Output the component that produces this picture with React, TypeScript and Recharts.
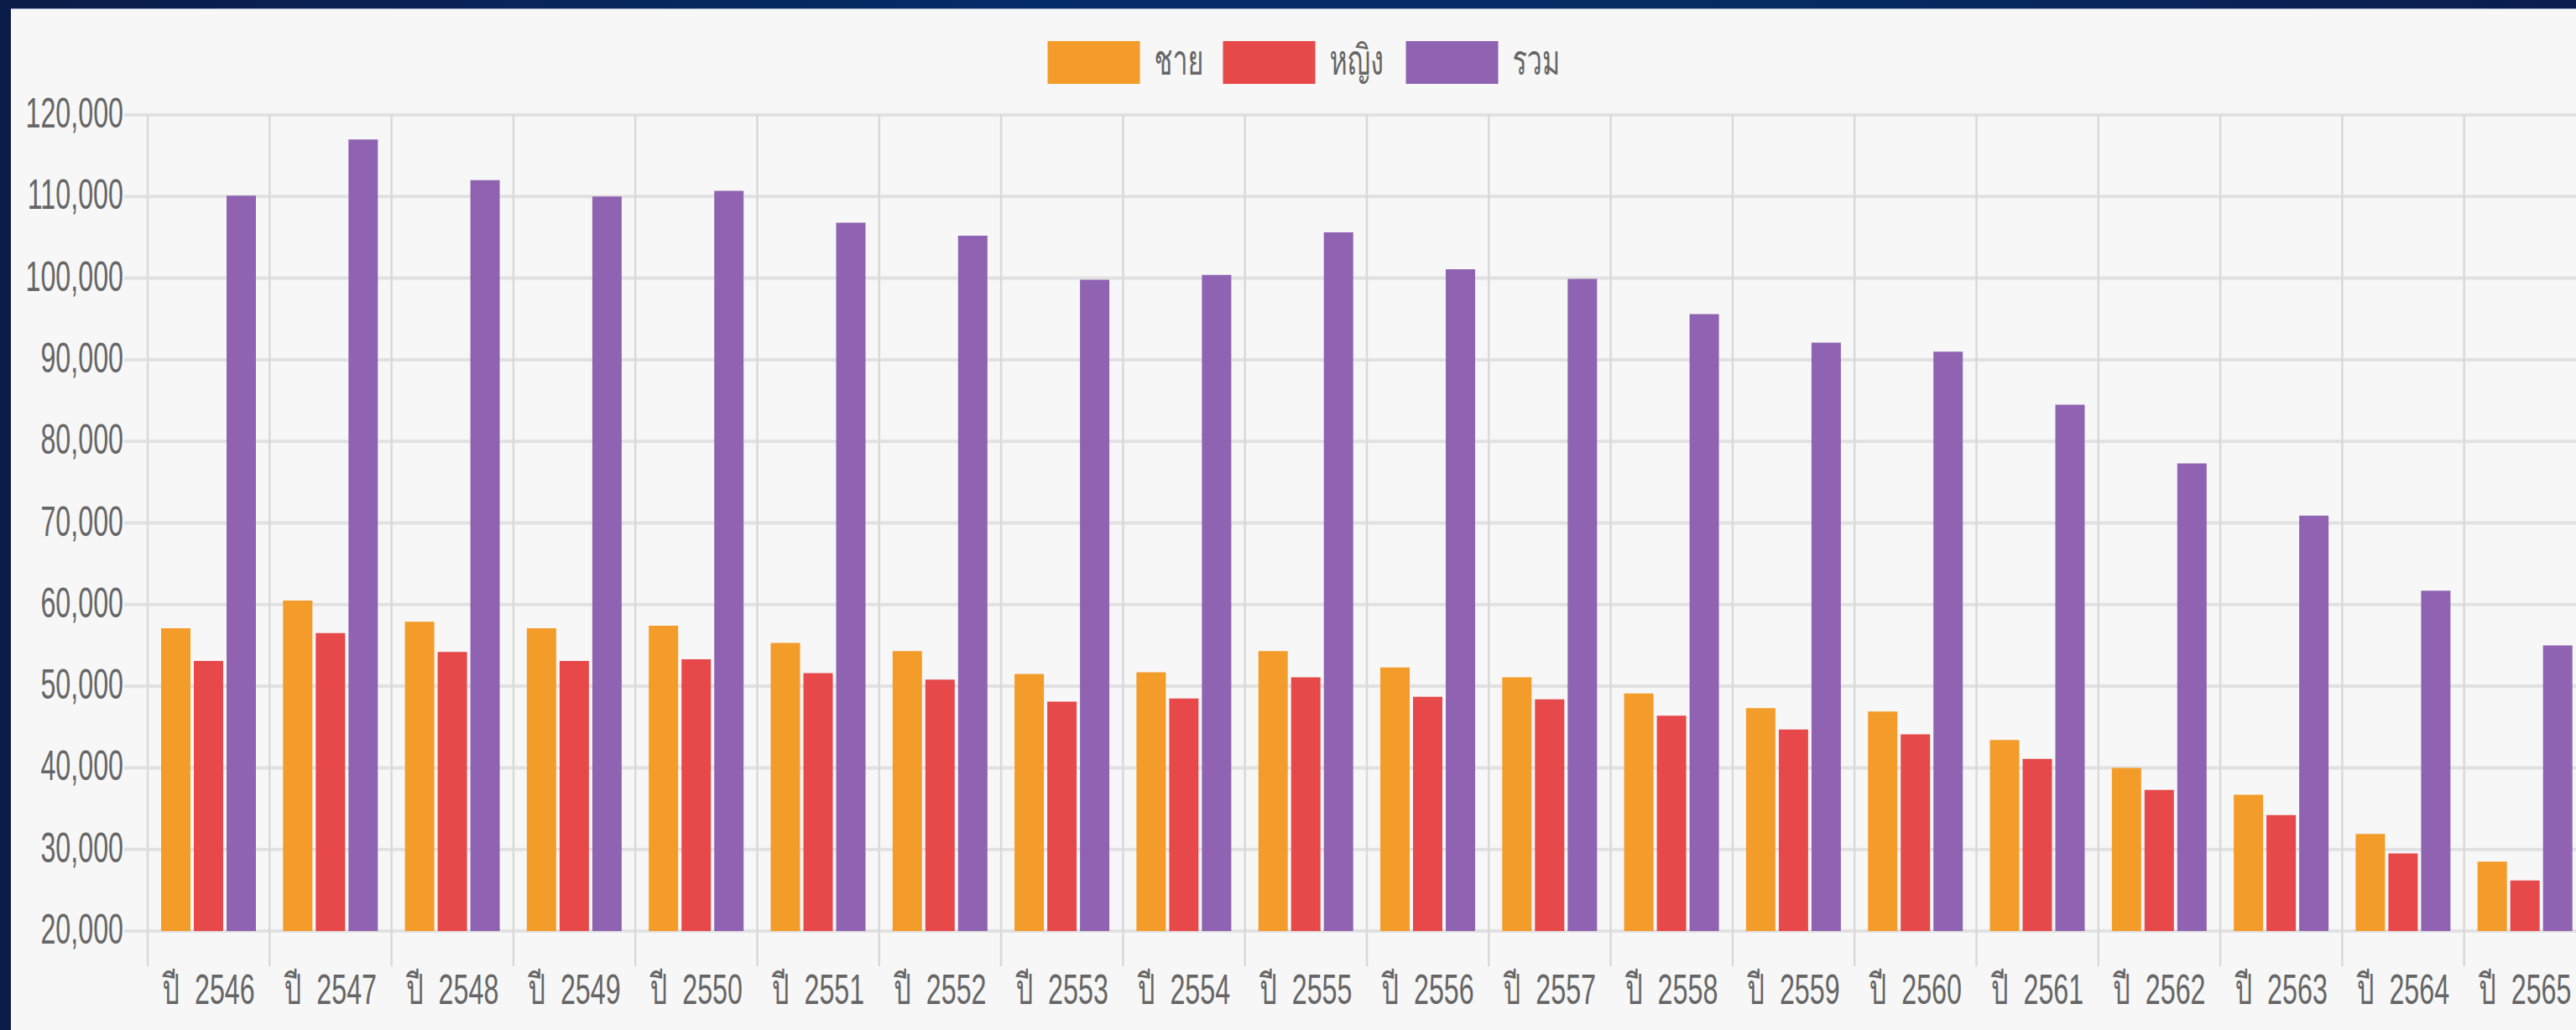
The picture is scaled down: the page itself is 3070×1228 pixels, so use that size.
import React from 'react';
import { BarChart, Bar, XAxis, YAxis, CartesianGrid, Legend } from 'recharts';

const YEARS = ['2546', '2547', '2548', '2549', '2550', '2551', '2552', '2553', '2554', '2555', '2556', '2557', '2558', '2559', '2560', '2561', '2562', '2563', '2564', '2565'];
const CATEGORIES = YEARS.map((y) => `ปี ${y}`);
const MALE = [57100, 60500, 57900, 57100, 57400, 55300, 54300, 51500, 51700, 54300, 52300, 51100, 49100, 47300, 46900, 43400, 40000, 36700, 31900, 28500];
const FEMALE = [53100, 56500, 54200, 53100, 53300, 51600, 50800, 48100, 48500, 51100, 48700, 48400, 46400, 44700, 44100, 41100, 37300, 34200, 29500, 26200];
const TOTAL = [110100, 117000, 112000, 110000, 110700, 106800, 105200, 99800, 100400, 105600, 101100, 99900, 95600, 92100, 91000, 84500, 77300, 70900, 61700, 55000];
const Y_TICKS = [20000, 30000, 40000, 50000, 60000, 70000, 80000, 90000, 100000, 110000, 120000];
const SERIES_NAMES = ['ชาย', 'หญิง', 'รวม'];
const SERIES_KEYS = ['male', 'female', 'total'];
const COLORS = ['#F39C2A', '#E7494A', '#8F63B1'];

const data = CATEGORIES.map((name, i) => ({ name, male: MALE[i], female: FEMALE[i], total: TOTAL[i] }));

const CHART_W = 3100;
const CHART_H = 1228;
const MARGIN = { top: 137, right: 18, bottom: 18, left: 0 };
const Y_W = 176;
const X_H = 100;
const PLOT_W = CHART_W - MARGIN.left - MARGIN.right - Y_W;
const FONT = "'Liberation Sans', Arial, Loma, Garuda, Tahoma, Waree, Umpush, 'Noto Sans Thai Looped', 'Noto Sans Thai', sans-serif";
const FS = 50;
const SX = 0.645;
const TEXT = '#666666';
const H_GRID = '#e1e1e1';
const V_GRID = '#d9d9d9';

const fmt = (v: number) => v.toLocaleString('en-US');

const YTick = (props: any) => {
  const { x, y, payload } = props;
  return (
    <g transform={`translate(${x},${y})`}>
      <text transform={`scale(${SX},1)`} x={0} y={15} textAnchor="end" fill={TEXT} fontSize={FS} fontFamily={FONT}>
        {fmt(payload.value)}
      </text>
    </g>
  );
};

const XTick = (props: any) => {
  const { x, y, payload } = props;
  const band = PLOT_W / CATEGORIES.length;
  const bx = x - band / 2;
  return (
    <g>
      <line x1={bx} x2={bx} y1={y} y2={y + 42} stroke={V_GRID} strokeWidth={2.5} />
      <g transform={`translate(${x},${y + 87})`}>
        <text transform={`scale(${SX},1)`} x={0} y={0} textAnchor="middle" fill={TEXT} fontSize={FS} fontFamily={FONT} wordSpacing={14}>
          {payload.value}
        </text>
      </g>
    </g>
  );
};

const LEGEND_TEXT_W = [54, 63, 49];
const LEGEND_BOX_W = 110;
const LEGEND_BOX_H = 51;

const LegendContent = () => {
  const gapBoxText = 17;
  const gapItem = 28;
  const total =
    SERIES_NAMES.reduce((s, _n, i) => s + LEGEND_BOX_W + gapBoxText + LEGEND_TEXT_W[i], 0) + gapItem * (SERIES_NAMES.length - 1);
  let cursor = CHART_W / 2 - total / 2;
  const items = SERIES_NAMES.map((name, i) => {
    const bx = cursor;
    const tx = bx + LEGEND_BOX_W + gapBoxText;
    cursor = tx + LEGEND_TEXT_W[i] + gapItem;
    return (
      <g key={name}>
        <rect x={bx} y={49} width={LEGEND_BOX_W} height={LEGEND_BOX_H} fill={COLORS[i]} />
        <g transform={`translate(${tx},89)`}>
          <text transform={`scale(${SX},1)`} x={0} y={0} fill={TEXT} fontSize={FS} fontFamily={FONT}>
            {name}
          </text>
        </g>
      </g>
    );
  });
  return (
    <svg width={CHART_W} height={120} style={{ display: 'block' }}>
      {items}
    </svg>
  );
};

export default function App() {
  return (
    <div
      style={{
        position: 'fixed',
        left: 0,
        top: 0,
        width: 3070,
        height: 1228,
        overflow: 'hidden',
        background: 'linear-gradient(90deg, #0b1b47 0%, #042c69 40%, #062a63 70%, #0b1d4c 100%)',
      }}
    >
      <div style={{ position: 'absolute', left: 13, top: 10, width: 3200, height: 1300, background: '#f7f7f7', borderTop: '1px solid #9fb0c8' }} />
      <div style={{ position: 'absolute', left: 0, top: 0 }}>
        <BarChart width={CHART_W} height={CHART_H} data={data} margin={MARGIN} barSize={35} barGap={4}>
          <CartesianGrid vertical={false} stroke={H_GRID} strokeWidth={4} />
          <CartesianGrid
            horizontal={false}
            stroke={V_GRID}
            strokeWidth={2.5}
            verticalCoordinatesGenerator={({ offset }: any) =>
              Array.from({ length: CATEGORIES.length + 1 }, (_v, i) => offset.left + (i * offset.width) / CATEGORIES.length)
            }
          />
          <XAxis
            dataKey="name"
            height={X_H}
            axisLine={false}
            tickLine={false}
            tickSize={0}
            tickMargin={0}
            interval={0}
            tick={<XTick />}
          />
          <YAxis
            width={Y_W}
            domain={[20000, 120000]}
            ticks={Y_TICKS}
            interval={0}
            axisLine={false}
            tickLine={{ stroke: H_GRID, strokeWidth: 4 }}
            tickSize={28}
            tickMargin={1}
            tick={<YTick />}
          />
          <Legend
            layout="horizontal"
            verticalAlign="middle"
            align="center"
            wrapperStyle={{ position: 'absolute', top: 0, left: 0, width: CHART_W, height: 120 }}
            content={<LegendContent />}
          />
          {SERIES_KEYS.map((k, i) => (
            <Bar key={k} dataKey={k} name={SERIES_NAMES[i]} fill={COLORS[i]} isAnimationActive={false} />
          ))}
        </BarChart>
      </div>
    </div>
  );
}
